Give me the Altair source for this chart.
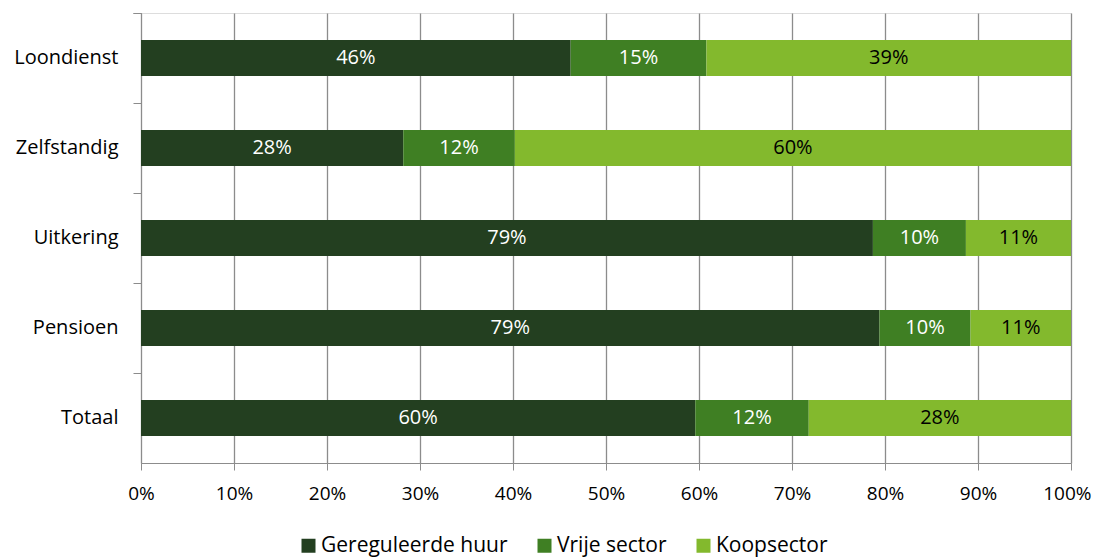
import altair as alt
import pandas as pd

categories = ["Loondienst", "Zelfstandig", "Uitkering", "Pensioen", "Totaal"]
series = ["Gereguleerde huur", "Vrije sector", "Koopsector"]
gereguleerde = [46.2, 28.2, 78.7, 79.4, 59.6]
vrije = [14.6, 12.0, 10.0, 9.8, 12.2]
koop = [39.2, 59.8, 11.3, 10.8, 28.2]
colors = ["#233f20", "#3f7f23", "#83b92d"]
label_colors = ["white", "white", "black"]

rows = []
for i, c in enumerate(categories):
    for j, (s, vals) in enumerate(zip(series, [gereguleerde, vrije, koop])):
        rows.append({"cat": c, "series": s, "order": j, "value": vals[i] / 100,
                     "label": f"{round(vals[i])}%", "lc": label_colors[j]})
df = pd.DataFrame(rows)

FONT = "Open Sans"

y_enc = alt.Y("cat:N", sort=categories, title=None,
              scale=alt.Scale(paddingInner=0, paddingOuter=0),
              axis=alt.Axis(domain=True, domainColor="#8c8c8c", ticks=True, tickColor="#8c8c8c",
                            tickSize=8, bandPosition=0, tickExtra=True,
                            labelFont=FONT, labelFontSize=20, labelColor="black",
                            labelPadding=15, grid=False))

base = alt.Chart(df)

bars = base.mark_bar(stroke=None, size=36).encode(
    y=y_enc,
    x=alt.X("value:Q", stack="zero", title=None,
            scale=alt.Scale(domain=[0, 1], nice=False),
            axis=alt.Axis(format="%", values=[i / 10 for i in range(11)],
                          grid=True, gridColor="#8c8c8c", gridWidth=1.3,
                          domainColor="#8c8c8c", tickColor="#8c8c8c", tickSize=7,
                          labelFont=FONT, labelFontSize=19, labelColor="black",
                          labelAlign=alt.expr("datum.value >= 1 ? 'right' : 'center'"),
                          labelOffset=alt.expr("datum.value >= 1 ? 20 : 0"),
                          labelPadding=14, labelFlush=False)),
    color=alt.Color("series:N", sort=series,
                    scale=alt.Scale(domain=series, range=colors),
                    legend=alt.Legend(title=None, orient="none", direction="horizontal",
                                      legendX=157, legendY=522,
                                      symbolType="square", symbolSize=196,
                                      symbolStrokeWidth=0, labelFont=FONT,
                                      labelFontSize=21, labelColor="black",
                                      labelLimit=400,
                                      columnPadding=26, labelOffset=2)),
    order=alt.Order("order:Q"),
)

text = base.mark_text(font=FONT, fontSize=20, baseline="middle", align="center").encode(
    y=alt.Y("cat:N", sort=categories),
    x=alt.X("value:Q", stack="zero", bandPosition=0.5),
    detail="series:N",
    order=alt.Order("order:Q"),
    text="label:N",
    color=alt.Color("lc:N", scale=None),
)

chart = alt.layer(bars, text).properties(
    width=930, height=450,
    autosize=alt.AutoSizeParams(type="none"),
    padding={"left": 133, "top": 5, "right": 21, "bottom": 100},
).configure_view(stroke=None).configure(background="white")

chart.save("out.html", embed_options={"renderer": "svg", "actions": False})
